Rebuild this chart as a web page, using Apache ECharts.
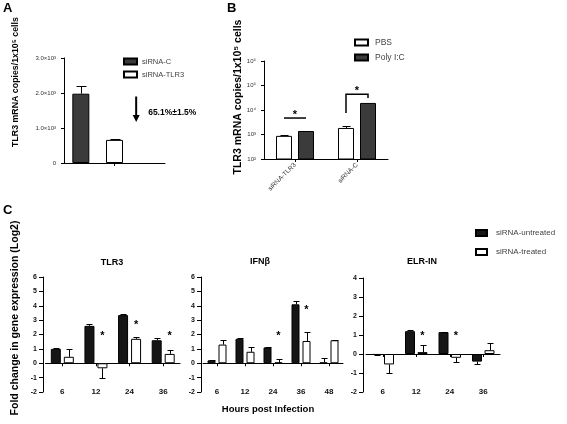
<!DOCTYPE html>
<html><head><meta charset="utf-8">
<script src="https://cdn.jsdelivr.net/npm/echarts@6/dist/echarts.min.js"></script>
<style>html,body{margin:0;padding:0;background:#fff}#c{width:567px;height:424px}</style>
</head><body><div id="c"></div>
<script>
// ---------- Panel A ----------
const aCategories = ['siRNA-C', 'siRNA-TLR3'];
const aValues = [1980, 660];
const aErrors = [220, 20];
const aTickLabels = ['0', '1.0×10³', '2.0×10³', '3.0×10³'];
const aArrowFrom = 1900, aArrowTo = 1170, aTextAt = 1430;
const aReductionText = '65.1%±1.5%';

// ---------- Panel B ----------
const bCategories = ['siRNA-TLR3', 'siRNA-C'];
const bPBS = [880, 1850];
const bPBSErr = [70, 380];
const bPoly = [1390, 19400];
const bPolyErr = [0, 0];
const bTickLabels = ['10²', '10³', '10⁴', '10⁵', '10⁶'];
const bBracketLeft = [4700, 7500];
const bBracketRight = [4700, 31000];
const bBracketTop = [4700, 44000];
const bStars = [8300, 79000];

// ---------- Panel C ----------
const tlr3Times = ['6', '12', '24', '36'];
const tlr3Untreated = [1.0, 2.6, 3.35, 1.6];
const tlr3UntreatedErr = [0.05, 0.15, 0.1, 0.15];
const tlr3Treated = [0.45, -0.35, 1.7, 0.65];
const tlr3TreatedErr = [0.55, 0.65, 0.1, 0.3];
const tlr3Stars = [null, 2.1, 2.85, 2.1];

const ifnTimes = ['6', '12', '24', '36', '48'];
const ifnUntreated = [0.2, 1.7, 1.1, 4.1, 0.05];
const ifnUntreatedErr = [0.05, 0.03, 0.03, 0.25, 0.3];
const ifnTreated = [1.3, 0.8, 0.05, 1.55, 1.6];
const ifnTreatedErr = [0.35, 0.35, 0.25, 0.65, 0.05];
const ifnStars = [null, null, 2.1, 3.9, null];

const elrTimes = ['6', '12', '24', '36'];
const elrUntreated = [-0.05, 1.2, 1.15, -0.4];
const elrUntreatedErr = [0.02, 0.05, 0.03, 0.1];
const elrTreated = [-0.55, 0.1, -0.2, 0.2];
const elrTreatedErr = [0.45, 0.4, 0.2, 0.4];
const elrStars = [null, 1.1, 1.1, null];

// ---------- helpers ----------
const FONT = 'Liberation Sans, Arial, Helvetica, sans-serif';
const DARK_AB = '#3b3b3b';
const DARK_C = '#161616';

function errSeries(xi, yi, vals, errs, off, cap) {
  return {
    type: 'custom', xAxisIndex: xi, yAxisIndex: yi, silent: true, z: 5,
    data: vals.map((v, i) => [i, v, errs[i]]),
    renderItem: (params, api) => {
      const i = api.value(0), v = api.value(1), e = api.value(2);
      if (!e) return null;
      const dir = v < 0 ? -1 : 1;
      const p0 = api.coord([i, v]);
      const p1 = api.coord([i, v + dir * e]);
      const x = Math.round(p0[0] + off) + 0.5;
      const y1 = Math.round(p1[1]) + 0.5;
      return { type: 'group', children: [
        { type: 'line', shape: { x1: x, y1: p0[1], x2: x, y2: y1 }, style: { stroke: '#000', lineWidth: 1 } },
        { type: 'line', shape: { x1: x - cap / 2, y1: y1, x2: x + cap / 2, y2: y1 }, style: { stroke: '#000', lineWidth: 1 } }
      ]};
    }
  };
}
function starSeries(xi, yi, vals, off, size) {
  return {
    type: 'custom', xAxisIndex: xi, yAxisIndex: yi, silent: true, z: 6,
    data: vals.map((v, i) => [i, v == null ? '-' : v]),
    renderItem: (params, api) => {
      const v = api.value(1);
      if (isNaN(v)) return null;
      const p = api.coord([api.value(0), v]);
      return { type: 'text', x: p[0] + off, y: p[1] + size * 0.28,
        style: { text: '*', fontSize: size, fontWeight: 'bold', fontFamily: FONT, fill: '#000', align: 'center', verticalAlign: 'middle' } };
    }
  };
}
function barC(name, xi, yi, data, dark, width, gap) {
  const s = { type: 'bar', name: name, xAxisIndex: xi, yAxisIndex: yi, data: data, barWidth: width,
    itemStyle: { color: dark ? DARK_C : '#fff', borderColor: '#000', borderWidth: 1 } };
  if (gap) s.barGap = gap;
  return s;
}
const yAxisC = (gi, min, max, offset) => ({
  type: 'value', gridIndex: gi, min: min, max: max, interval: 1, offset: offset,
  splitLine: { show: false },
  axisLine: { show: true, lineStyle: { color: '#000', width: 1 } },
  axisTick: { show: true, length: 4, lineStyle: { color: '#000' } },
  axisLabel: { fontSize: 7, fontWeight: 'bold', color: '#111', margin: 6, fontFamily: FONT }
});
const xLineC = (gi, cats) => ({
  type: 'category', gridIndex: gi, data: cats,
  axisLine: { show: true, onZero: true, lineStyle: { color: '#000', width: 1 } },
  axisTick: { show: true, alignWithLabel: true, length: 3, lineStyle: { color: '#000' } },
  axisLabel: { show: false }
});
const xLabelC = (gi, cats) => ({
  type: 'category', gridIndex: gi, data: cats, position: 'bottom', offset: -5,
  axisLine: { show: false, onZero: false }, axisTick: { show: false },
  axisLabel: { fontSize: 8, fontWeight: 'bold', color: '#111', margin: 1, fontFamily: FONT }
});

const chart = echarts.init(document.getElementById('c'), null, { renderer: 'canvas' });
const option = {
  animation: false,
  backgroundColor: '#fff',
  textStyle: { fontFamily: FONT },
  grid: [
    { left: 64, top: 58, width: 101, height: 105 },
    { left: 264, top: 61, width: 124, height: 98 },
    { left: 45.5, top: 277, width: 134.5, height: 115 },
    { left: 203, top: 277, width: 140, height: 115 },
    { left: 366, top: 278, width: 134, height: 114 }
  ],
  xAxis: [
    { type: 'category', gridIndex: 0, data: aCategories.concat(['']),
      axisLine: { lineStyle: { color: '#000' } },
      axisTick: { show: true, alignWithLabel: true, length: 3, interval: (i) => i === 1, lineStyle: { color: '#000' } },
      axisLabel: { show: false } },
    { type: 'category', gridIndex: 1, data: bCategories,
      axisLine: { lineStyle: { color: '#000' } },
      axisTick: { show: true, alignWithLabel: true, length: 3, lineStyle: { color: '#000' } },
      axisLabel: { rotate: 45, fontSize: 6.5, color: '#333', margin: 5, fontFamily: FONT } },
    xLineC(2, tlr3Times), xLabelC(2, tlr3Times),
    xLineC(3, ifnTimes), xLabelC(3, ifnTimes),
    xLineC(4, elrTimes), xLabelC(4, elrTimes)
  ],
  yAxis: [
    { type: 'value', gridIndex: 0, min: 0, max: 3000, interval: 1000,
      splitLine: { show: false },
      axisLine: { show: true, lineStyle: { color: '#000' } },
      axisTick: { show: true, length: 3, lineStyle: { color: '#000' } },
      axisLabel: { fontSize: 6, color: '#333', margin: 8, fontFamily: FONT,
        formatter: (v) => aTickLabels[Math.round(v / 1000)] } },
    { type: 'log', gridIndex: 1, min: 100, max: 1000000, logBase: 10,
      splitLine: { show: false },
      axisLine: { show: true, lineStyle: { color: '#000' } },
      axisTick: { show: true, length: 3, lineStyle: { color: '#000' } },
      axisLabel: { fontSize: 6, color: '#333', margin: 8, fontFamily: FONT,
        formatter: (v) => bTickLabels[Math.round(Math.log10(v)) - 2] } },
    yAxisC(2, -2, 6, 2.5),
    yAxisC(3, -2, 6, 2),
    yAxisC(4, -2, 4, 3)
  ],
  legend: [
    { data: ['siRNA-C', 'siRNA-TLR3'], orient: 'vertical', left: 123, top: 57.5, padding: 0,
      itemWidth: 13, itemHeight: 6, itemGap: 5, icon: 'rect', selectedMode: false,
      textStyle: { fontSize: 7.5, color: '#444', fontFamily: FONT } },
    { data: ['PBS', 'Poly I:C'], orient: 'vertical', left: 354, top: 38, padding: 0,
      itemWidth: 13, itemHeight: 6, itemGap: 6, icon: 'rect', selectedMode: false,
      textStyle: { fontSize: 8.5, color: '#444', fontFamily: FONT, padding: [0, 0, 0, 2] } },
    { data: ['siRNA-untreated', 'siRNA-treated'], orient: 'vertical', left: 475, top: 229, padding: 0,
      itemWidth: 11, itemHeight: 6, itemGap: 11, icon: 'rect', selectedMode: false,
      textStyle: { fontSize: 8, color: '#444', fontFamily: FONT, padding: [0, 0, 0, 4] } }
  ],
  series: [
    // Panel A
    { type: 'bar', name: aCategories[0], xAxisIndex: 0, yAxisIndex: 0, barWidth: 17,
      data: [aValues[0], '-', '-'],
      itemStyle: { color: DARK_AB, borderColor: '#000', borderWidth: 1 } },
    { type: 'bar', name: aCategories[1], xAxisIndex: 0, yAxisIndex: 0, barWidth: 17, barGap: '-100%',
      data: ['-', aValues[1], '-'],
      itemStyle: { color: '#fff', borderColor: '#000', borderWidth: 1 } },
    errSeries(0, 0, aValues, aErrors, 0, 10),
    { type: 'custom', xAxisIndex: 0, yAxisIndex: 0, silent: true, z: 6,
      data: [[2, aArrowFrom, aArrowTo, aTextAt]],
      renderItem: (params, api) => {
        const p0 = api.coord([api.value(0), api.value(1)]);
        const p1 = api.coord([api.value(0), api.value(2)]);
        const pt = api.coord([api.value(0), api.value(3)]);
        const x = p0[0] - 12;
        return { type: 'group', children: [
          { type: 'line', shape: { x1: x, y1: p0[1], x2: x, y2: p1[1] - 6 }, style: { stroke: '#000', lineWidth: 2 } },
          { type: 'polygon', shape: { points: [[x - 3.5, p1[1] - 7], [x + 3.5, p1[1] - 7], [x, p1[1]]] }, style: { fill: '#000' } },
          { type: 'text', x: pt[0], y: pt[1], style: { text: aReductionText, fontSize: 8.5, fontWeight: 'bold', fontFamily: FONT, fill: '#000', align: 'left', verticalAlign: 'middle' } }
        ]};
      } },
    // Panel B
    { type: 'bar', name: 'PBS', xAxisIndex: 1, yAxisIndex: 1, barWidth: 16, data: bPBS,
      itemStyle: { color: '#fff', borderColor: '#000', borderWidth: 1 } },
    { type: 'bar', name: 'Poly I:C', xAxisIndex: 1, yAxisIndex: 1, barWidth: 16, barGap: '37.5%', data: bPoly,
      itemStyle: { color: DARK_AB, borderColor: '#000', borderWidth: 1 } },
    errSeries(1, 1, bPBS, bPBSErr, -11, 8),
    errSeries(1, 1, bPoly, bPolyErr, 11, 8),
    { type: 'custom', xAxisIndex: 1, yAxisIndex: 1, silent: true, z: 6,
      data: bCategories.map((c, i) => [i, bBracketLeft[i], bBracketRight[i], bBracketTop[i]]),
      renderItem: (params, api) => {
        const i = api.value(0);
        const pl = api.coord([i, api.value(1)]);
        const pr = api.coord([i, api.value(2)]);
        const pt = api.coord([i, api.value(3)]);
        const xl = pl[0] - 11, xr = pl[0] + 11;
        return { type: 'polyline', shape: { points: [[xl, pl[1]], [xl, pt[1]], [xr, pt[1]], [xr, pr[1]]] },
          style: { stroke: '#000', lineWidth: 1.5, fill: null } };
      } },
    starSeries(1, 1, bStars, 0, 11),
    // Panel C - TLR3
    barC('siRNA-untreated', 2, 2, tlr3Untreated, true, 10),
    barC('siRNA-treated', 2, 2, tlr3Treated, false, 10, '30%'),
    errSeries(2, 2, tlr3Untreated, tlr3UntreatedErr, -6.5, 6),
    errSeries(2, 2, tlr3Treated, tlr3TreatedErr, 6.5, 6),
    starSeries(2, 2, tlr3Stars, 6.5, 11),
    // Panel C - IFNb
    barC('siRNA-untreated', 4, 3, ifnUntreated, true, 8),
    barC('siRNA-treated', 4, 3, ifnTreated, false, 8, '37.5%'),
    errSeries(4, 3, ifnUntreated, ifnUntreatedErr, -5.5, 6),
    errSeries(4, 3, ifnTreated, ifnTreatedErr, 5.5, 6),
    starSeries(4, 3, ifnStars, 5.5, 11),
    // Panel C - ELR-IN
    barC('siRNA-untreated', 6, 4, elrUntreated, true, 10),
    barC('siRNA-treated', 6, 4, elrTreated, false, 10, '25%'),
    errSeries(6, 4, elrUntreated, elrUntreatedErr, -6.25, 6),
    errSeries(6, 4, elrTreated, elrTreatedErr, 6.25, 6),
    starSeries(6, 4, elrStars, 6.25, 11)
  ],
  graphic: [
    { type: 'text', x: 3, y: 2, style: { text: 'A', fontSize: 13, fontWeight: 'bold', fontFamily: FONT, fill: '#000' } },
    { type: 'text', x: 227, y: 2, style: { text: 'B', fontSize: 13, fontWeight: 'bold', fontFamily: FONT, fill: '#000' } },
    { type: 'text', x: 3, y: 204, style: { text: 'C', fontSize: 13, fontWeight: 'bold', fontFamily: FONT, fill: '#000' } },
    { type: 'text', x: 16, y: 82, rotation: Math.PI / 2,
      style: { text: 'TLR3 mRNA copies/1x10⁵ cells', fontSize: 8.8, fontWeight: 'bold', fontFamily: FONT, fill: '#000', align: 'center', verticalAlign: 'middle' } },
    { type: 'text', x: 238, y: 97, rotation: Math.PI / 2,
      style: { text: 'TLR3 mRNA copies/1x10⁵ cells', fontSize: 10.5, fontWeight: 'bold', fontFamily: FONT, fill: '#000', align: 'center', verticalAlign: 'middle' } },
    { type: 'text', x: 15, y: 318, rotation: Math.PI / 2,
      style: { text: 'Fold change in gene expression (Log2)', fontSize: 10.5, fontWeight: 'bold', fontFamily: FONT, fill: '#000', align: 'center', verticalAlign: 'middle' } },
    { type: 'text', x: 268, y: 409,
      style: { text: 'Hours post Infection', fontSize: 9.5, fontWeight: 'bold', fontFamily: FONT, fill: '#000', align: 'center', verticalAlign: 'middle' } },
    { type: 'text', x: 112, y: 263,
      style: { text: 'TLR3', fontSize: 9, fontWeight: 'bold', fontFamily: FONT, fill: '#000', align: 'center', verticalAlign: 'middle' } },
    { type: 'text', x: 260, y: 262,
      style: { text: 'IFNβ', fontSize: 9, fontWeight: 'bold', fontFamily: FONT, fill: '#000', align: 'center', verticalAlign: 'middle' } },
    { type: 'text', x: 422, y: 262,
      style: { text: 'ELR-IN', fontSize: 9, fontWeight: 'bold', fontFamily: FONT, fill: '#000', align: 'center', verticalAlign: 'middle' } }
  ]
};
chart.setOption(option);
</script>
</body></html>
